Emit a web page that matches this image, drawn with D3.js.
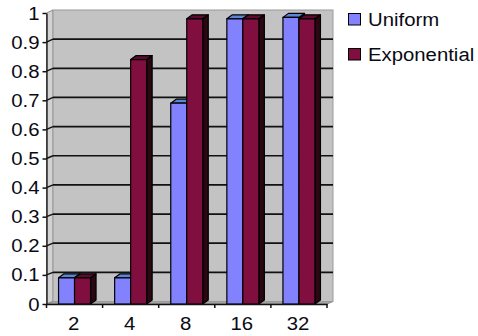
<!DOCTYPE html>
<html><head><meta charset="utf-8">
<script src="https://cdn.jsdelivr.net/npm/d3@7"></script>
<style>
html,body{margin:0;padding:0;background:#fff;}
svg text{font-family:"Liberation Sans",Arial,sans-serif;font-size:18px;fill:#0a0a14;}
</style></head>
<body><svg id="c" width="478" height="336"></svg>
<script>
const categories = ["2","4","8","16","32"];
const seriesNames = ["Uniform","Exponential"];
const uniform = [0.09,0.09,0.69,0.98,0.985];
const exponential = [0.09,0.84,0.98,0.98,0.98];
const yTickValues = [0,0.1,0.2,0.3,0.4,0.5,0.6,0.7,0.8,0.9,1];
const yTickLabels = ["0","0.1","0.2","0.3","0.4","0.5","0.6","0.7","0.8","0.9","1"];

const colors = {
  Uniform:{front:"#8282ff", top:"#5b86d6", side:"#3a3a9a"},
  Exponential:{front:"#800f40", top:"#5c0a2d", side:"#2a0812"}
};
const SX = 1.13;

const svg = d3.select("#c");
const x = d3.scaleBand().domain(categories).range([46.5,327]);
const y = d3.scaleLinear().domain([0,1]).range([304,13]);
const yBack = d3.scaleLinear().domain([0,1]).range([301.5,10]);
const xBack = d3.scaleLinear().domain([46.5,327]).range([53,333]);
const sub = d3.scaleBand().domain(seriesNames).range([0,32]);
const bdx = 5.5, bdy = -4;

function stretchText(g, tx, ty, str, anchor){
  return g.append("text").attr("transform",`translate(${tx},${ty}) scale(${SX},1)`)
    .attr("text-anchor",anchor).text(str);
}

const x0 = x.range()[0], x1 = x.range()[1];
svg.append("polygon")
  .attr("points",[[x0,y(0)],[x0,y(1)],[xBack(x0),yBack(1)],[xBack(x0),yBack(0)]].join(" "))
  .attr("fill","#d2d2d2").attr("stroke","#8a8a8a").attr("stroke-width",1);
svg.append("polygon")
  .attr("points",[[x0,y(0)],[x1,y(0)],[xBack(x1),yBack(0)],[xBack(x0),yBack(0)]].join(" "))
  .attr("fill","#a4a4a4").attr("stroke","#8a8a8a").attr("stroke-width",1);
svg.append("rect")
  .attr("x",xBack(x0)).attr("y",yBack(1))
  .attr("width",xBack(x1)-xBack(x0)).attr("height",yBack(0)-yBack(1))
  .attr("fill","#c3c3c3").attr("stroke","#9a9a9a").attr("stroke-width",1);

const grid = svg.append("g");
yTickValues.filter(v=>v>0 && v<1).forEach(v=>{
  grid.append("line").attr("x1",xBack(x0)).attr("x2",xBack(x1))
    .attr("y1",yBack(v)).attr("y2",yBack(v))
    .attr("stroke","#111").attr("stroke-width",1.7);
  grid.append("line").attr("x1",x0).attr("x2",xBack(x0))
    .attr("y1",y(v)).attr("y2",yBack(v))
    .attr("stroke","#111").attr("stroke-width",1.4);
});

const barW = sub.bandwidth();
const bars = svg.append("g");
categories.forEach((c,i)=>{
  const vals = {Uniform:uniform[i], Exponential:exponential[i]};
  seriesNames.forEach(s=>{
    const bx = x(c) + x.bandwidth()/2 - 16 + sub(s);
    const top = y(vals[s]), bot = y(0);
    const col = colors[s];
    const g = bars.append("g").attr("stroke","#000").attr("stroke-width",1.2).attr("stroke-linejoin","round");
    g.append("polygon").attr("points",[[bx+barW,top],[bx+barW+bdx,top+bdy],[bx+barW+bdx,bot+bdy],[bx+barW,bot]].join(" "))
      .attr("fill",col.side);
    g.append("polygon").attr("points",[[bx,top],[bx+bdx,top+bdy],[bx+barW+bdx,top+bdy],[bx+barW,top]].join(" "))
      .attr("fill",col.top);
    g.append("rect").attr("x",bx).attr("y",top).attr("width",barW).attr("height",bot-top)
      .attr("fill",col.front);
  });
});

const yAxis = svg.append("g").attr("transform",`translate(${x0},0)`)
  .call(d3.axisLeft(y).tickValues(yTickValues).tickSize(4).tickSizeOuter(0).tickFormat(""));
yAxis.select(".domain").attr("stroke","#111").attr("stroke-width",1.3);
yAxis.selectAll(".tick line").attr("stroke","#111").attr("stroke-width",1.5);
const yLab = svg.append("g");
yTickValues.forEach((v,i)=>stretchText(yLab, 39.5, y(v)+6.5, yTickLabels[i], "end"));

const xAxis = svg.append("g").attr("transform",`translate(0,${y(0)})`)
  .call(d3.axisBottom(x).tickSize(0).tickSizeOuter(0).tickFormat(""));
xAxis.select(".domain").attr("stroke","#111").attr("stroke-width",1.3);
const bounds = categories.map(c=>x(c)).concat([x1]);
xAxis.selectAll(".bt").data(bounds).enter().append("line")
  .attr("x1",d=>d).attr("x2",d=>d).attr("y1",0).attr("y2",4)
  .attr("stroke","#111").attr("stroke-width",1.5);
const xLab = svg.append("g");
categories.forEach(c=>stretchText(xLab, x(c)+x.bandwidth()/2-1, 330, c, "middle"));

const leg = svg.append("g");
seriesNames.forEach((s,i)=>{
  const ly = 13 + i*35;
  leg.append("rect").attr("x",348.5).attr("y",ly+0.5).attr("width",12).attr("height",11.5)
    .attr("fill",colors[s].front).attr("stroke","#000").attr("stroke-width",1);
  stretchText(leg, 368, ly+13, s, "start");
});
</script></body></html>
